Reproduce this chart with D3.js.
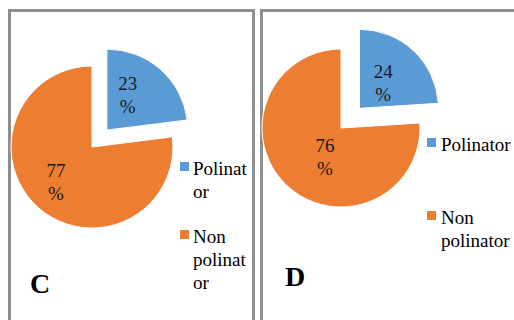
<!DOCTYPE html>
<html>
<head>
<meta charset="utf-8">
<script src="https://cdn.jsdelivr.net/npm/d3@7"></script>
<style>
  body { margin: 0; background: #fff; }
  svg { display: block; }
</style>
</head>
<body>
<svg id="chart" width="514" height="320" font-family="'Liberation Serif', 'DejaVu Serif', serif"></svg>
<script>
// Share of flower visitors per site
const categories = ["Polinator", "Non polinator"];
const valuesC = [23, 77];
const valuesD = [24, 76];
const panelLetters = ["C", "D"];
const sliceColors = ["#5B9BD5", "#ED7D31"];

const svg = d3.select("#chart");
const serif = "'Liberation Serif', 'DejaVu Serif', serif";

// Layout of each panel: frame, pie placement, label placement (radius fraction, angle in degrees), legend placement
const panels = [
  {
    letter: panelLetters[0], values: valuesC,
    frame: { x: 9.5, y: 10.5, w: 244, h: 330 },
    cx: 92, cy: 147, r: 81, explode: 22.5,
    labelPolar: [[0.50, 31], [0.62, 226]],
    legend: { x: 180, y: [162, 230], textX: 193, maxW: 58 },
    letterPos: [30, 293]
  },
  {
    letter: panelLetters[1], values: valuesD,
    frame: { x: 261.5, y: 10.5, w: 280, h: 330 },
    cx: 341, cy: 128, r: 79, explode: 27,
    labelPolar: [[0.44, 43], [0.42, 209]],
    legend: { x: 427, y: [138, 211], textX: 441, maxW: 75 },
    letterPos: [285, 286]
  }
];

const color = d3.scaleOrdinal().domain(categories).range(sliceColors);
const pie = d3.pie().sort(null).value(d => d.value);
const fontSize = 19, lineH = 23;

// Split a label into lines no wider than maxW, breaking inside words when needed
function wrapLines(textSel, str, maxW) {
  const lines = [];
  let line = "";
  const measure = s => { textSel.text(s); return textSel.node().getComputedTextLength(); };
  str.split(" ").forEach(word => {
    const candidate = line ? line + " " + word : word;
    if (measure(candidate) <= maxW) { line = candidate; return; }
    if (line) { lines.push(line); line = ""; }
    let rest = word;
    while (measure(rest) > maxW) {
      let k = rest.length;
      while (k > 1 && measure(rest.slice(0, k)) > maxW) k--;
      lines.push(rest.slice(0, k));
      rest = rest.slice(k);
    }
    line = rest;
  });
  if (line) lines.push(line);
  textSel.text(null);
  return lines;
}

panels.forEach(p => {
  const g = svg.append("g");

  g.append("rect")
    .attr("x", p.frame.x).attr("y", p.frame.y)
    .attr("width", p.frame.w).attr("height", p.frame.h)
    .attr("fill", "#fff").attr("stroke", "#8e8e8e").attr("stroke-width", 3);

  const data = categories.map((c, i) => ({ category: c, value: p.values[i] }));
  const arcs = pie(data);
  const arc = d3.arc().innerRadius(0).outerRadius(p.r);

  // The first slice is pulled out along its bisector
  const slices = g.selectAll("g.slice").data(arcs).join("g")
    .attr("class", "slice")
    .attr("transform", (d, i) => {
      const mid = (d.startAngle + d.endAngle) / 2;
      const off = i === 0 ? p.explode : 0;
      return `translate(${p.cx + Math.sin(mid) * off},${p.cy - Math.cos(mid) * off})`;
    });

  slices.append("path")
    .attr("d", arc)
    .attr("fill", d => color(d.data.category))
    .attr("stroke", "#fff").attr("stroke-width", 1);

  slices.append("text")
    .attr("text-anchor", "middle")
    .attr("font-family", serif)
    .attr("font-size", fontSize)
    .attr("fill", "#1a1a1a")
    .each(function (d, i) {
      const [frac, deg] = p.labelPolar[i];
      const a = deg * Math.PI / 180, lr = p.r * frac;
      const x = Math.sin(a) * lr, y = -Math.cos(a) * lr;
      const t = d3.select(this);
      t.append("tspan").attr("x", x).attr("y", y - 5).text(d.data.value);
      t.append("tspan").attr("x", x).attr("y", y - 5 + lineH).text("%");
    });

  // Legend
  categories.forEach((c, i) => {
    const top = p.legend.y[i];
    g.append("rect")
      .attr("x", p.legend.x).attr("y", top)
      .attr("width", 9).attr("height", 9)
      .attr("fill", color(c));
    const t = g.append("text")
      .attr("font-family", serif)
      .attr("font-size", fontSize)
      .attr("fill", "#000");
    const lines = wrapLines(t, c, p.legend.maxW);
    lines.forEach((ln, k) => {
      t.append("tspan").attr("x", p.legend.textX).attr("y", top + 12.5 + k * lineH).text(ln);
    });
  });

  g.append("text")
    .attr("x", p.letterPos[0]).attr("y", p.letterPos[1])
    .attr("font-family", serif)
    .attr("font-size", 28).attr("font-weight", "bold")
    .attr("fill", "#000")
    .text(p.letter);
});
</script>
</body>
</html>
